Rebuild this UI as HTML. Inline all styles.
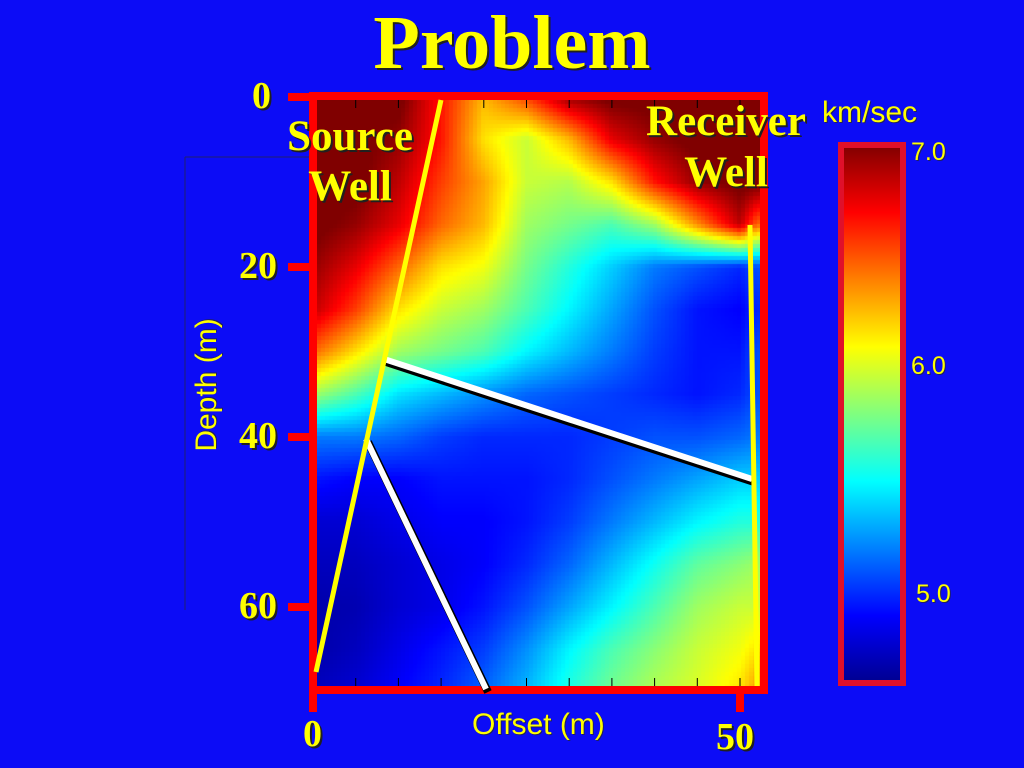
<!DOCTYPE html>
<html><head><meta charset="utf-8"><style>
html,body{margin:0;padding:0;width:1024px;height:768px;overflow:hidden;background:#0c0cf6}
.t{position:absolute;font-family:"Liberation Serif",serif;font-weight:bold;color:#ffff00;text-shadow:2px 2px 0 #202020;white-space:nowrap}
.s{position:absolute;font-family:"Liberation Sans",sans-serif;color:#ffff00;text-shadow:1px 1px 0 #202060;white-space:nowrap}
</style></head><body>
<div class="t" style="left:0;width:1024px;text-align:center;top:0;font-size:76px;line-height:86px">Problem</div>
<svg width="1024" height="768" style="position:absolute;left:0;top:0">
<line x1="185" y1="157" x2="313" y2="157" stroke="#202070" stroke-width="1"/>
<line x1="185" y1="157" x2="185" y2="610" stroke="#202070" stroke-width="1"/>
<foreignObject x="317" y="100" width="443" height="586"><canvas xmlns="http://www.w3.org/1999/xhtml" id="hm" width="443" height="586"></canvas></foreignObject>
<g id="ticks"></g>
<rect x="313" y="96" width="451" height="594" fill="none" stroke="#ff0000" stroke-width="8"/>
<g id="yt"></g>
<line x1="740" y1="690" x2="740" y2="712" stroke="#ff0000" stroke-width="8"/>
<line x1="313" y1="690" x2="313" y2="712" stroke="#ff0000" stroke-width="8"/>
<g>
<line x1="386" y1="362" x2="754" y2="482" stroke="#000" stroke-width="8"/>
<line x1="384" y1="359" x2="752" y2="479" stroke="#fff" stroke-width="6"/>
<line x1="368" y1="442" x2="488" y2="692" stroke="#000" stroke-width="8"/>
<line x1="366" y1="439" x2="486" y2="689" stroke="#fff" stroke-width="6"/>
<line x1="441" y1="100" x2="316" y2="672" stroke="#ffff00" stroke-width="5"/>
<line x1="750" y1="225" x2="757" y2="686" stroke="#ffff00" stroke-width="5"/>
</g>
<defs><linearGradient id="jet" x1="0" y1="1" x2="0" y2="0">
<stop offset="0" stop-color="#00008f"/><stop offset="0.125" stop-color="#0000ff"/><stop offset="0.375" stop-color="#00ffff"/><stop offset="0.625" stop-color="#ffff00"/><stop offset="0.875" stop-color="#ff0000"/><stop offset="1" stop-color="#800000"/></linearGradient></defs>
<rect x="841" y="145" width="62" height="538" fill="url(#jet)" stroke="#e0102a" stroke-width="6"/>
</svg>
<div class="t" style="left:252px;top:74px;font-size:38px">0</div>
<div class="t" style="left:239px;top:244px;font-size:38px">20</div>
<div class="t" style="left:239px;top:414px;font-size:38px">40</div>
<div class="t" style="left:239px;top:584px;font-size:38px">60</div>
<div class="t" style="left:303px;top:712px;font-size:38px">0</div>
<div class="t" style="left:716px;top:715px;font-size:38px">50</div>
<div class="t" style="left:260px;width:180px;text-align:center;top:112px;font-size:43px;line-height:50px">Source<br>Well</div>
<div class="t" style="left:626px;width:200px;text-align:center;top:96px;font-size:43px;line-height:51px">Receiver<br>Well</div>
<div class="s" style="left:822px;top:96px;font-size:30px">km/sec</div>
<div class="s" style="left:911px;top:138px;font-size:25px">7.0</div>
<div class="s" style="left:911px;top:352px;font-size:25px">6.0</div>
<div class="s" style="left:916px;top:580px;font-size:25px">5.0</div>
<div class="s" style="left:472px;top:708px;font-size:30px">Offset (m)</div>
<div class="s" style="left:207px;top:385px;font-size:30px;transform:translate(-50%,-50%) rotate(-90deg)">Depth (m)</div>
<script>
const offsets=[0,5,10,15,20,25,30,35,40,45,50,52];
const depths=[0,5,10,15,20,25,30,35,40,45,50,55,60,65,70];
const v0=[7.1,7.1,7.1,6.7,6.3,6.6,7.0,7.1,7.1,7.1,7.1,7.1];
const v5=[7.1,7.1,7.0,6.7,6.2,6.0,6.3,6.8,7.0,7.1,7.1,7.1];
const v10=[7.1,7.1,6.9,6.6,6.35,6.0,5.95,6.2,6.7,7.0,7.1,7.1];
const v15=[7.1,7.0,6.8,6.5,6.3,5.9,5.8,5.7,5.9,6.4,6.9,6.5];
const v20=[7.0,6.8,6.5,6.2,6.1,5.8,5.6,5.4,5.2,5.1,5.0,5.1];
const v25=[6.9,6.6,6.2,6.0,5.9,5.7,5.5,5.3,5.1,4.95,4.9,5.0];
const v30=[6.5,6.2,5.9,5.8,5.7,5.5,5.35,5.2,5.05,4.95,4.95,5.1];
const v35=[5.9,5.7,5.45,5.35,5.25,5.15,5.1,5.05,5.0,4.95,5.0,5.1];
const v40=[5.2,5.2,5.15,5.05,5.0,5.0,5.0,5.05,5.1,5.1,5.15,5.2];
const v45=[4.95,4.9,4.9,4.95,4.95,4.95,5.0,5.1,5.2,5.3,5.4,5.4];
const v50=[4.8,4.8,4.85,4.9,4.9,4.95,5.05,5.2,5.35,5.5,5.6,5.6];
const v55=[4.75,4.75,4.8,4.85,4.9,5.0,5.15,5.35,5.55,5.75,5.85,5.9];
const v60=[4.7,4.72,4.8,4.85,4.95,5.1,5.3,5.5,5.7,5.9,6.0,6.0];
const v65=[4.7,4.75,4.85,4.95,5.05,5.25,5.5,5.7,5.85,6.0,6.1,6.2];
const v70=[4.75,4.8,4.9,5.0,5.15,5.35,5.6,5.8,5.95,6.05,6.2,6.4];
const grid=[v0,v5,v10,v15,v20,v25,v30,v35,v40,v45,v50,v55,v60,v65,v70];
const yTicks=[0,20,40,60];
const vmin=4.6,vmax=7.05;
const xs=o=>313+o*8.54, ys=d=>97+d*8.5;
const xinv=px=>(px-313)/8.54, yinv=py=>(py-97)/8.5;
function jet(t){t=Math.max(0,Math.min(1,t));
 const r=Math.max(0,Math.min(1,1.5-Math.abs(4*t-3))),g=Math.max(0,Math.min(1,1.5-Math.abs(4*t-2))),b=Math.max(0,Math.min(1,1.5-Math.abs(4*t-1)));
 return 'rgb('+Math.round(r*255)+','+Math.round(g*255)+','+Math.round(b*255)+')';}
function idx(arr,v){let i=0;while(i<arr.length-2&&v>arr[i+1])i++;let f=(v-arr[i])/(arr[i+1]-arr[i]);return [i,Math.max(0,Math.min(1,f))];}
function val(o,d){const [i,fx]=idx(offsets,o),[j,fy]=idx(depths,d);
 const a=grid[j][i],b=grid[j][i+1],c=grid[j+1][i],e=grid[j+1][i+1];
 return (a*(1-fx)+b*fx)*(1-fy)+(c*(1-fx)+e*fx)*fy;}
const cv=document.getElementById('hm'),ctx=cv.getContext('2d'),cs=4;
for(let py=0;py<586;py+=cs)for(let px=0;px<443;px+=cs){
 const v=val(xinv(317+px+cs/2),yinv(100+py+cs/2));
 ctx.fillStyle=jet((v-vmin)/(vmax-vmin));ctx.fillRect(px,py,cs,cs);}
const NS='http://www.w3.org/2000/svg';
const yt=document.getElementById('yt');
yTicks.forEach(d=>{const l=document.createElementNS(NS,'line');
 l.setAttribute('x1',288);l.setAttribute('x2',312);l.setAttribute('y1',ys(d));l.setAttribute('y2',ys(d));
 l.setAttribute('stroke','#ff0000');l.setAttribute('stroke-width',8);
 
 
 yt.appendChild(l);});
const tk=document.getElementById('ticks');
for(let o=5;o<=50;o+=5){[[100,108],[678,686]].forEach(p=>{const l=document.createElementNS(NS,'line');
 l.setAttribute('x1',xs(o));l.setAttribute('x2',xs(o));l.setAttribute('y1',p[0]);l.setAttribute('y2',p[1]);
 l.setAttribute('stroke','#000');l.setAttribute('stroke-width',1);
 
 
 tk.appendChild(l);});}
</script>
</body></html>
